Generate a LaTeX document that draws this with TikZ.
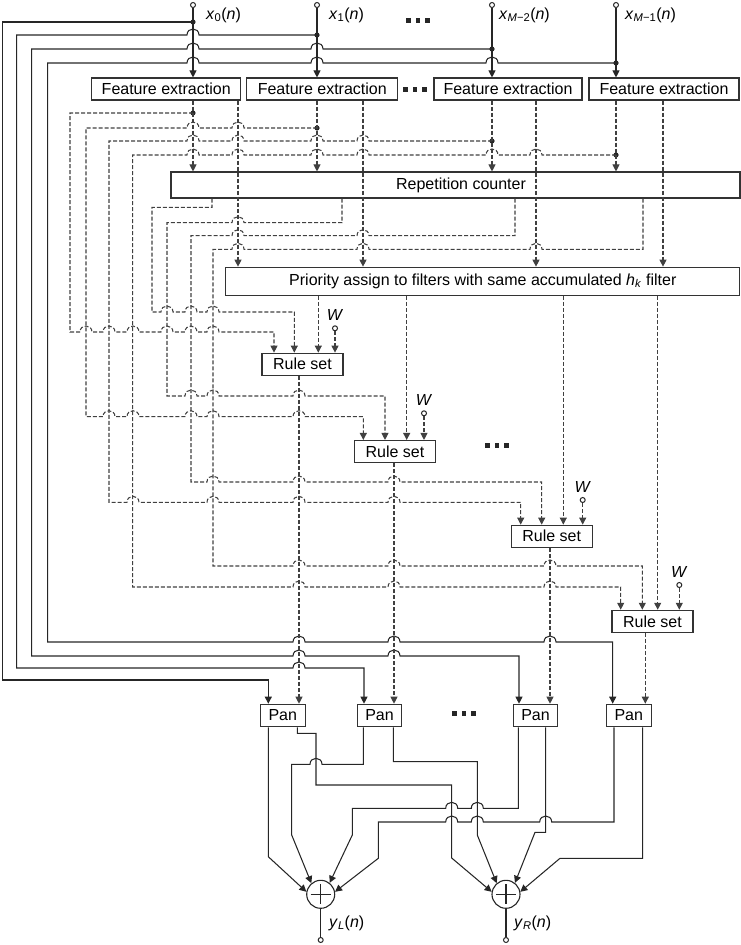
\documentclass[tikz,border=0pt]{standalone}
\usepackage{fontspec}
\setmainfont{Liberation Sans}
\usetikzlibrary{arrows.meta}
\begin{document}
\begin{tikzpicture}[x=1pt,y=-1pt,
  font=\fontsize{16}{19}\selectfont,
  box/.style={draw=black!80,line width=1.1pt,rectangle,inner sep=0pt,minimum height=22pt},
  sl/.style={draw=black!85,line width=1.05pt},
  dl/.style={draw=black!75,line width=1.05pt,dash pattern=on 4pt off 2pt},
  arr/.style={-{Triangle[length=7pt,width=7pt]}},
  incirc/.style={circle,draw=black!85,fill=white,line width=1pt,inner sep=0pt,minimum size=5pt},
  addr/.style={circle,draw=black!85,line width=1.1pt,inner sep=0pt,minimum size=28pt},
  lbl/.style={inner sep=0pt},
  jd/.style={fill=black!85}
]
\useasboundingbox (0,0) rectangle (741,945);

% ---- boxes
\node[box,minimum width=149pt] (fe1) at (166.2,89) {Feature extraction};
\node[box,minimum width=151pt] (fe2) at (322.3,89) {Feature extraction};
\node[box,minimum width=148pt] (fe3) at (508,89) {Feature extraction};
\node[box,minimum width=150pt] (fe4) at (664,89) {Feature extraction};
\node[box,minimum width=569pt,minimum height=26pt] (rc) at (455.5,185) {\hspace*{11pt}Repetition counter};
\node[box,minimum width=514pt,minimum height=28pt] (pr) at (482.8,281.2) {Priority assign to filters with same accumulated \textit{h}\textsubscript{\textit{k}} filter};
\node[box,minimum width=81pt] (rs1) at (302.5,364.2) {Rule set};
\node[box,minimum width=81pt] (rs2) at (395,451.5) {Rule set};
\node[box,minimum width=81pt] (rs3) at (551.7,536.2) {Rule set};
\node[box,minimum width=81pt] (rs4) at (652.5,621.3) {Rule set};
\node[box,minimum width=44.5pt,minimum height=22.5pt] (pan1) at (282.8,715.5) {Pan};
\node[box,minimum width=44.5pt,minimum height=22.5pt] (pan2) at (379.5,715.5) {Pan};
\node[box,minimum width=44.5pt,minimum height=22.5pt] (pan3) at (535.5,715.5) {Pan};
\node[box,minimum width=44.5pt,minimum height=22.5pt] (pan4) at (628.8,715.5) {Pan};
\node[addr] (addL) at (320.7,894.3) {};
\node[addr] (addR) at (506,894.3) {};
\draw[sl,line width=1.5pt] (addL.center) ++(-10,0) -- ++(20,0) (addL.center) ++(0,-10) -- ++(0,20);
\draw[sl,line width=1.5pt] (addR.center) ++(-10,0) -- ++(20,0) (addR.center) ++(0,-10) -- ++(0,20);

% ---- inputs
\node[incirc] (i0) at (193,5) {};
\node[incirc] (i1) at (317,5) {};
\node[incirc] (i2) at (492,5) {};
\node[incirc] (i3) at (616,5) {};
\node[lbl,anchor=west] (lx0) at (206,15) {\textit{x}\textsubscript{0}(\textit{n})};
\node[lbl,anchor=west] (lx1) at (329,15) {\textit{x}\textsubscript{1}(\textit{n})};
\node[lbl,anchor=west] (lx2) at (499,15) {\textit{x}\textsubscript{\textit{M}−2}(\textit{n})};
\node[lbl,anchor=west] (lx3) at (625,15) {\textit{x}\textsubscript{\textit{M}−1}(\textit{n})};
\draw[sl,arr] (i0) -- (193,0 |- fe1.north);
\draw[sl,arr] (i1) -- (317,0 |- fe2.north);
\draw[sl,arr] (i2) -- (492,0 |- fe3.north);
\draw[sl,arr] (i3) -- (616,0 |- fe4.north);

% ---- solid feed lines to pans
\draw[sl,arr] (193,22) -- (2.5,22) -- (2.5,680) -- (268.3,680) -- (268.3,0 |- pan1.north);
\draw[sl,arr] (317,35) \foreach \h in {193}{ -- ({\h+6},35) .. controls ({\h+6},27) and ({\h-6},27) .. ({\h-6},35)} -- (16.7,35) -- (16.7,668)
  \foreach \h in {299}{ -- ({\h-6},668) .. controls ({\h-6},660) and ({\h+6},660) .. ({\h+6},668)} -- (364,668) -- (364,0 |- pan2.north);
\draw[sl,arr] (492,49) \foreach \h in {317,193}{ -- ({\h+6},49) .. controls ({\h+6},41) and ({\h-6},41) .. ({\h-6},49)} -- (31.7,49) -- (31.7,656)
  \foreach \h in {299,394}{ -- ({\h-6},656) .. controls ({\h-6},648) and ({\h+6},648) .. ({\h+6},656)} -- (519,656) -- (519,0 |- pan3.north);
\draw[sl,arr] (616,63) \foreach \h in {492,317,193}{ -- ({\h+6},63) .. controls ({\h+6},55) and ({\h-6},55) .. ({\h-6},63)} -- (47.7,63) -- (47.7,642)
  \foreach \h in {299,394,550}{ -- ({\h-6},642) .. controls ({\h-6},634) and ({\h+6},634) .. ({\h+6},642)} -- (612.7,642) -- (612.7,0 |- pan4.north);
\foreach \p in {(193,22),(317,35),(492,49),(616,63),(193,113),(317,128),(492,141),(616,155)} \fill[jd] \p circle[radius=2.6];

% ---- feature extraction outputs
\draw[dl,arr] (193,0|-fe1.south) -- (193,0|-rc.north);
\draw[dl,arr] (317,0|-fe2.south) -- (317,0|-rc.north);
\draw[dl,arr] (492,0|-fe3.south) -- (492,0|-rc.north);
\draw[dl,arr] (616,0|-fe4.south) -- (616,0|-rc.north);
\draw[dl,arr] (238,0|-fe1.south) -- (238,0|-pr.north);
\draw[dl,arr] (363,0|-fe2.south) -- (363,0|-pr.north);
\draw[dl,arr] (536,0|-fe3.south) -- (536,0|-pr.north);
\draw[dl,arr] (663,0|-fe4.south) -- (663,0|-pr.north);

% ---- feature paths to rule sets
\draw[dl,arr] (193,113) -- (70,113) -- (70,332) \foreach \h in {86,109,133,167,191,213}{ -- ({\h-6},332) .. controls ({\h-6},324) and ({\h+6},324) .. ({\h+6},332)} -- (274,332) -- (274,0|-rs1.north);
\draw[dl,arr] (317,128) \foreach \h in {238,193}{ -- ({\h+6},128) .. controls ({\h+6},120) and ({\h-6},120) .. ({\h-6},128)} -- (86,128) -- (86,416.7)
  \foreach \h in {109,133,191,213,299}{ -- ({\h-6},416.7) .. controls ({\h-6},408.7) and ({\h+6},408.7) .. ({\h+6},416.7)} -- (363.3,416.7) -- (363.3,0|-rs2.north);
\draw[dl,arr] (492,141) \foreach \h in {363,317,238,193}{ -- ({\h+6},141) .. controls ({\h+6},133) and ({\h-6},133) .. ({\h-6},141)} -- (109,141) -- (109,502.3)
  \foreach \h in {133,213,299,394}{ -- ({\h-6},502.3) .. controls ({\h-6},494.3) and ({\h+6},494.3) .. ({\h+6},502.3)} -- (520.7,502.3) -- (520.7,0|-rs3.north);
\draw[dl,arr] (616,155) \foreach \h in {536,492,363,317,238,193}{ -- ({\h+6},155) .. controls ({\h+6},147) and ({\h-6},147) .. ({\h-6},155)} -- (132.7,155) -- (132.7,587)
  \foreach \h in {299,394,550}{ -- ({\h-6},587) .. controls ({\h-6},579) and ({\h+6},579) .. ({\h+6},587)} -- (620.7,587) -- (620.7,0|-rs4.north);

% ---- repetition counter paths
\draw[dl,arr] (212,0|-rc.south) -- (212,207.3) -- (152,207.3) -- (152,312) \foreach \h in {167,191,213}{ -- ({\h-6},312) .. controls ({\h-6},304) and ({\h+6},304) .. ({\h+6},312)} -- (294.3,312) -- (294.3,0|-rs1.north);
\draw[dl,arr] (342,0|-rc.south) -- (342,222.7) \foreach \h in {238}{ -- ({\h+6},222.7) .. controls ({\h+6},214.7) and ({\h-6},214.7) .. ({\h-6},222.7)} -- (167,222.7) -- (167,396)
  \foreach \h in {191,213,299}{ -- ({\h-6},396) .. controls ({\h-6},388) and ({\h+6},388) .. ({\h+6},396)} -- (385,396) -- (385,0|-rs2.north);
\draw[dl,arr] (515,0|-rc.south) -- (515,235.7) \foreach \h in {363,238}{ -- ({\h+6},235.7) .. controls ({\h+6},227.7) and ({\h-6},227.7) .. ({\h-6},235.7)} -- (191,235.7) -- (191,482)
  \foreach \h in {213,299,394}{ -- ({\h-6},482) .. controls ({\h-6},474) and ({\h+6},474) .. ({\h+6},482)} -- (541.7,482) -- (541.7,0|-rs3.north);
\draw[dl,arr] (643,0|-rc.south) -- (643,249.3) \foreach \h in {536,363,238}{ -- ({\h+6},249.3) .. controls ({\h+6},241.3) and ({\h-6},241.3) .. ({\h-6},249.3)} -- (213,249.3) -- (213,566)
  \foreach \h in {299,394,550}{ -- ({\h-6},566) .. controls ({\h-6},558) and ({\h+6},558) .. ({\h+6},566)} -- (642.3,566) -- (642.3,0|-rs4.north);

% ---- priority outputs
\draw[dl,arr] (318.3,0|-pr.south) -- (318.3,0|-rs1.north);
\draw[dl,arr] (406.7,0|-pr.south) -- (406.7,0|-rs2.north);
\draw[dl,arr] (563.3,0|-pr.south) -- (563.3,0|-rs3.north);
\draw[dl,arr] (657.7,0|-pr.south) -- (657.7,0|-rs4.north);

% ---- W inputs
\node[incirc] (w1) at (335,328.3) {};
\node[incirc] (w2) at (424,413.3) {};
\node[incirc] (w3) at (582.7,500) {};
\node[incirc] (w4) at (679.3,585) {};
\node[lbl] (lw1) at (335,315) {\textit{W}};
\node[lbl] (lw2) at (424,400) {\textit{W}};
\node[lbl] (lw3) at (582.7,487) {\textit{W}};
\node[lbl] (lw4) at (679.3,572) {\textit{W}};
\draw[dl,arr] (w1) -- (335,0|-rs1.north);
\draw[dl,arr] (w2) -- (424,0|-rs2.north);
\draw[dl,arr] (w3) -- (582.7,0|-rs3.north);
\draw[dl,arr] (w4) -- (679.3,0|-rs4.north);

% ---- rule set outputs
\draw[dl,arr] (299,0|-rs1.south) -- (299,0|-pan1.north);
\draw[dl,arr] (394,0|-rs2.south) -- (394,0|-pan2.north);
\draw[dl,arr] (550,0|-rs3.south) -- (550,0|-pan3.north);
\draw[dl,arr] (645.3,0|-rs4.south) -- (645.3,0|-pan4.north);

% ---- pan outputs
\draw[sl,arr] (268.3,0|-pan1.south) -- (268.3,856.7) -- (addL.170);
\draw[sl,arr] (297.3,0|-pan1.south) -- (297.3,733.3) -- (316,733.3) -- (316,785) -- (451.7,785) -- (451.7,858) -- (addR.170);
\draw[sl,arr] (363.3,0|-pan2.south) -- (363.3,764.3) \foreach \h in {316}{ -- ({\h+6},764.3) .. controls ({\h+6},756.3) and ({\h-6},756.3) .. ({\h-6},764.3)} -- (291.7,764.3) -- (291.7,835) -- (addL.130);
\draw[sl,arr] (393.3,0|-pan2.south) -- (393.3,761.7) -- (477.3,761.7) -- (477.3,835) -- (addR.130);
\draw[sl,arr] (518.3,0|-pan3.south) -- (518.3,808.3) \foreach \h in {477.3,451.7}{ -- ({\h+6},808.3) .. controls ({\h+6},800.3) and ({\h-6},800.3) .. ({\h-6},808.3)} -- (352.3,808.3) -- (352.3,835) -- (addL.52);
\draw[sl,arr] (545.7,0|-pan3.south) -- (545.7,832.3) -- (535,832.3) -- (addR.52);
\draw[sl,arr] (614,0|-pan4.south) -- (614,822) \foreach \h in {545.7,477.3,451.7}{ -- ({\h+6},822) .. controls ({\h+6},814) and ({\h-6},814) .. ({\h-6},822)} -- (378.3,822) -- (378.3,858.3) -- (addL.10);
\draw[sl,arr] (642.7,0|-pan4.south) -- (642.7,858.3) -- (560,858.3) -- (addR.10);

% ---- outputs
\node[incirc] (oL) at (320.7,940) {};
\node[incirc] (oR) at (506,940) {};
\draw[sl] (addL.south) -- (oL);
\draw[sl] (addR.south) -- (oR);
\node[lbl,anchor=west] (ly1) at (329,923) {\textit{y}\textsubscript{\textit{L}}(\textit{n})};
\node[lbl,anchor=west] (ly2) at (514,923) {\textit{y}\textsubscript{\textit{R}}(\textit{n})};

% ---- ellipses
\foreach \xx in {0,9.5,19} {
  \fill[black!85] ({406+\xx},18) rectangle ++(4.5,4.5);
  \fill[black!85] ({403+\xx},87) rectangle ++(4.5,4.5);
  \fill[black!85] ({485+\xx},443) rectangle ++(4.5,4.5);
  \fill[black!85] ({452+\xx},711) rectangle ++(4.5,4.5);
}
\end{tikzpicture}
\end{document}
